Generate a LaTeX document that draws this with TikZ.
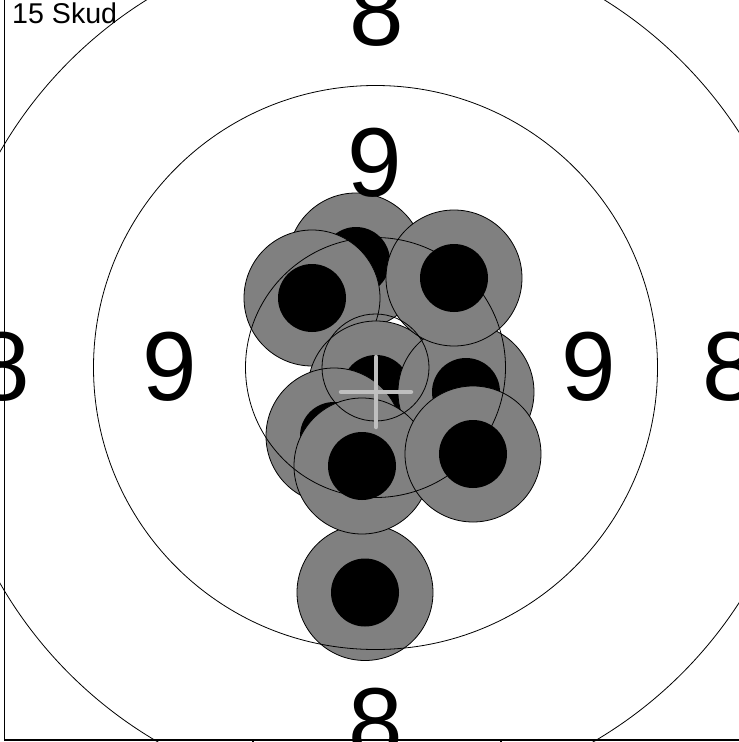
\documentclass[tikz,border=0pt]{standalone}
\usepackage{fontspec}
\setmainfont{Liberation Sans}
\tikzset{
	ring/.style={line width=0.8pt},
	shot/.style={draw, line width=0.8pt, fill=gray},
	hole/.style={fill=black},
	ringnum/.style={inner sep=0, font=\fontsize{98}{98}\selectfont},
	aim/.style={line width=4.5pt, line cap=round, color=black!25},
	frame/.style={line width=1.5pt}
}

\begin{document}
\begin{tikzpicture}[x=1pt, y=-1pt]
	\useasboundingbox[fill=white] (0, 0) rectangle (739, 742);
	\coordinate (c) at (375.5, 367.5);
	
	% shots, in the order they were fired
	\coordinate (s1) at (365, 592.5);
	\coordinate (s2) at (356, 261);
	\coordinate (s3) at (312, 298);
	\coordinate (s4) at (376, 389);
	\coordinate (s5) at (466, 392);
	\coordinate (s6) at (454, 278);
	\coordinate (s7) at (334, 436);
	\coordinate (s8) at (362, 466);
	\coordinate (s9) at (473, 454);
	
	\draw[shot] (s1) circle (68);
	\fill[hole] (s1) circle (34);
	\draw[shot] (s2) circle (68);
	\fill[hole] (s2) circle (34);
	\draw[shot] (s3) circle (68);
	\fill[hole] (s3) circle (34);
	\draw[shot] (s4) circle (68);
	\fill[hole] (s4) circle (34);
	\draw[shot] (s5) circle (68);
	\fill[hole] (s5) circle (34);
	\draw[shot] (s6) circle (68);
	\fill[hole] (s6) circle (34);
	\draw[shot] (s7) circle (68);
	\fill[hole] (s7) circle (34);
	\draw[shot] (s8) circle (68);
	\fill[hole] (s8) circle (34);
	\draw[shot] (s9) circle (68);
	\fill[hole] (s9) circle (34);
	
	% rings
	\draw[ring] (c) circle (53.5);
	\draw[ring] (c) circle (130);
	\draw[ring] (c) circle (282);
	\draw[ring] (c) circle (433);
	
	\node[ringnum] (top8) at (376.5, 11.5) {8};
	\node[ringnum] (top9) at (375, 163) {9};
	\node[ringnum] (left8) at (3, 367) {8};
	\node[ringnum] (left9) at (170, 367) {9};
	\node[ringnum] (right9) at (589, 367) {9};
	\node[ringnum] (right8) at (730, 367) {8};
	\node[ringnum] (bottom8) at (376, 723) {8};
	
	\node[anchor=north west, inner sep=0, font=\fontsize{28.6}{28.6}\selectfont] (count) at (12, 3) {15 Skud};
	
	% mean point of impact
	\coordinate (m) at (376, 392);
	\draw[aim] ([xshift=-35pt]m) -- ([xshift=35pt]m);
	\draw[aim] ([yshift=35pt]m) -- ([yshift=-35pt]m);
	
	\draw[frame] (4.5, 0) -- (4.5, 740) -- (739, 740);
	\draw[frame] (253, 740) -- (253, 742);
	\draw[frame] (501, 740) -- (501, 742);
\end{tikzpicture}
\end{document}
